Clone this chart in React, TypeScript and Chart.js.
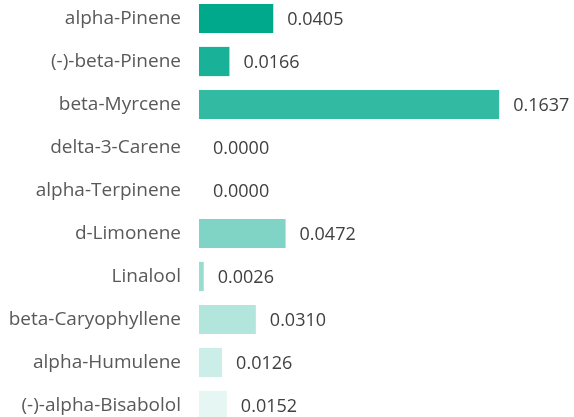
import React, { useEffect, useRef } from "react";
import { Chart, registerables } from "chart.js";

Chart.register(...registerables);

const categories = [
  "alpha-Pinene",
  "(-)-beta-Pinene",
  "beta-Myrcene",
  "delta-3-Carene",
  "alpha-Terpinene",
  "d-Limonene",
  "Linalool",
  "beta-Caryophyllene",
  "alpha-Humulene",
  "(-)-alpha-Bisabolol",
];
const values = [0.0405, 0.0166, 0.1637, 0.0, 0.0, 0.0472, 0.0026, 0.031, 0.0126, 0.0152];
const opacities = [1, 0.9, 0.8, 0.7, 0.6, 0.5, 0.4, 0.3, 0.2, 0.1];
const xMax = 0.2045;

const FONT = "'Open Sans', sans-serif";

const valueLabels = {
  id: "valueLabels",
  afterDatasetsDraw(chart: any) {
    const ctx = chart.ctx;
    const meta = chart.getDatasetMeta(0);
    ctx.save();
    ctx.font = `18px ${FONT}`;
    ctx.fillStyle = "#404040";
    ctx.textAlign = "left";
    ctx.textBaseline = "middle";
    meta.data.forEach((bar: any, i: number) => {
      ctx.fillText(values[i].toFixed(4), bar.x + 14, bar.y + 1);
    });
    ctx.restore();
  },
};

export default function App() {
  const ref = useRef<HTMLCanvasElement>(null);
  useEffect(() => {
    document.body.style.overflow = "hidden";
    const chart = new Chart(ref.current!, {
      type: "bar",
      data: {
        labels: categories,
        datasets: [
          {
            data: values,
            backgroundColor: opacities.map((a) => `rgba(0,169,140,${a})`),
            barPercentage: 0.68,
            categoryPercentage: 1,
          },
        ],
      },
      options: {
        indexAxis: "y",
        animation: false,
        responsive: false,
        maintainAspectRatio: false,
        layout: { padding: 0 },
        plugins: { legend: { display: false }, tooltip: { enabled: false } },
        scales: {
          x: { display: false, min: 0, max: xMax },
          y: {
            grid: { display: false, drawTicks: false },
            border: { display: false },
            ticks: { font: { family: FONT, size: 19 }, color: "#595959", padding: 18 },
            afterFit(scale: any) {
              scale.width = 199;
              scale.paddingTop = 0;
              scale.paddingBottom = 0;
            },
          },
        },
      },
      plugins: [valueLabels],
    });
    return () => chart.destroy();
  }, []);
  return (
    <div style={{ position: "absolute", left: 0, top: -3, width: 574, height: 430 }}>
      <canvas ref={ref} width={574} height={430} />
    </div>
  );
}
